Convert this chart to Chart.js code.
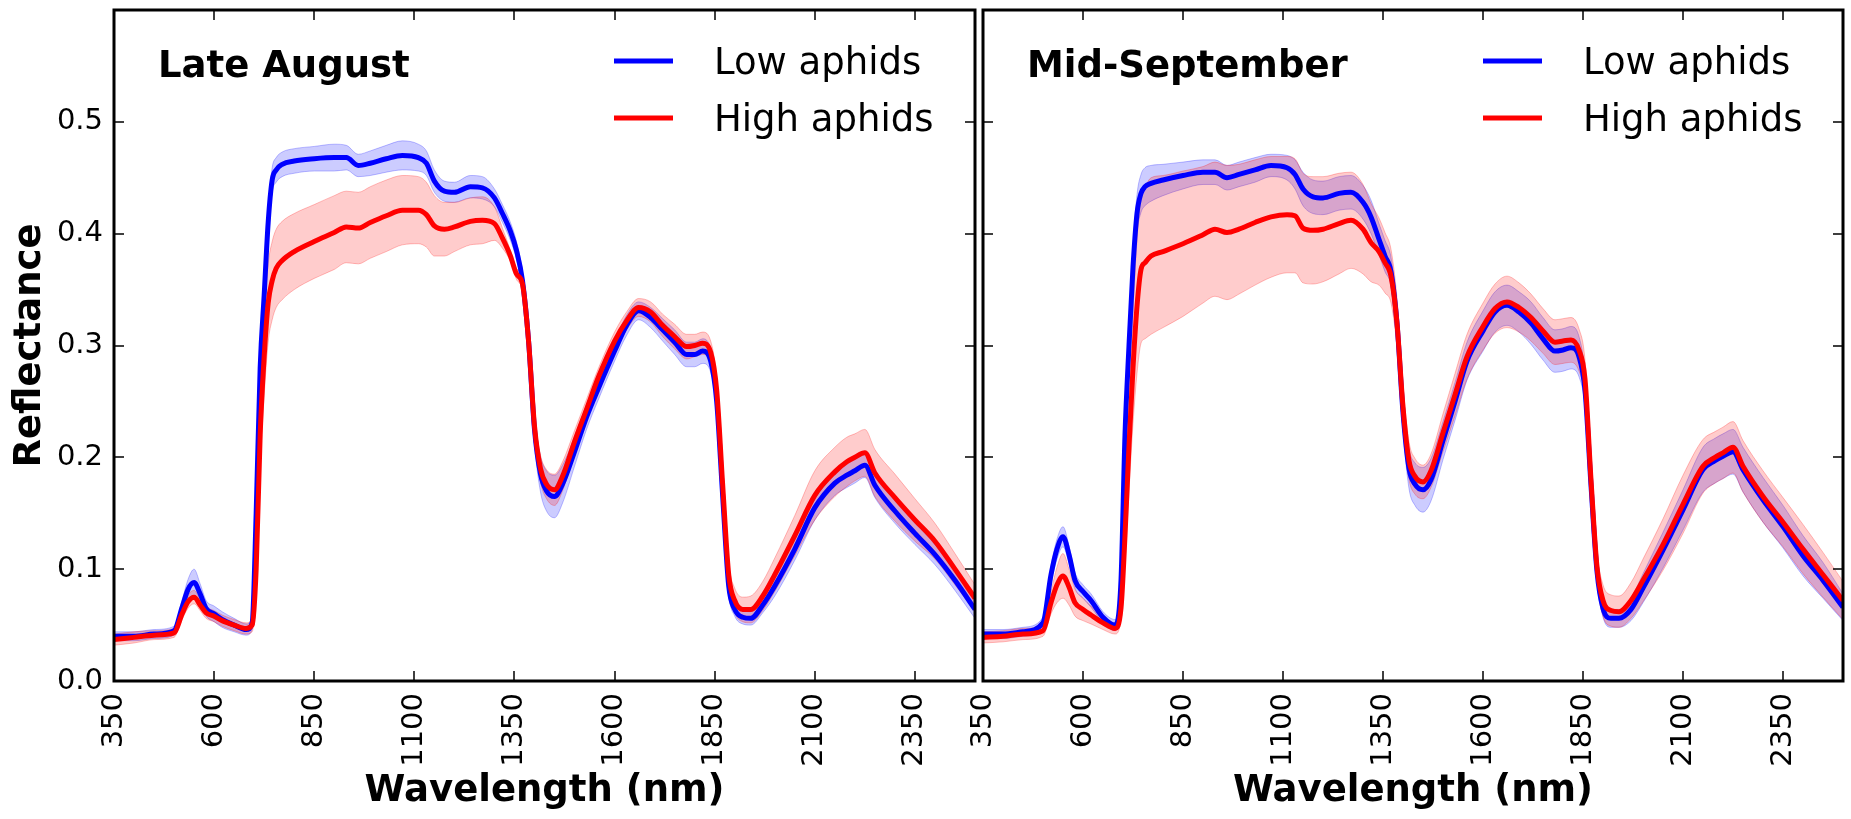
<!DOCTYPE html>
<html>
<head>
<meta charset="utf-8">
<script src="https://cdn.jsdelivr.net/npm/chart.js@4.4.1/dist/chart.umd.min.js"></script>
<style>
  html, body { margin: 0; padding: 0; background: #fff; }
  body { width: 1851px; height: 819px; position: relative; overflow: hidden; }
  canvas { position: absolute; top: 0; }
  #augChart { left: 0; }
  #sepChart { left: 940px; }
</style>
</head>
<body>
<canvas id="augChart" width="980" height="819"></canvas>
<canvas id="sepChart" width="911" height="819"></canvas>
<script>
// wavelengths (nm)
const wavelengths = [350, 400, 450, 500,
  520, 535, 550, 565, 580,
  600, 620, 650, 680,
  695, 705, 715, 725, 735, 745, 755,
  770, 800, 850, 900, 930, 960, 990,
  1030, 1070, 1110, 1130, 1150, 1175, 1200,
  1240, 1270, 1300, 1320, 1340, 1355, 1370,
  1385, 1400, 1415, 1430, 1450, 1470, 1500,
  1530, 1560, 1600, 1630, 1660, 1690, 1720,
  1750, 1780, 1800, 1820, 1840, 1855, 1870,
  1885, 1900, 1920, 1940, 1970, 2000, 2050,
  2100, 2150, 2180, 2200, 2225, 2250, 2300,
  2350, 2400, 2450, 2500];

const xTickValues = [350, 600, 850, 1100, 1350, 1600, 1850, 2100, 2350];
const yTickValues = [0, 0.1, 0.2, 0.3, 0.4, 0.5];
const seriesNames = ['Low aphids', 'High aphids'];

// Late August
const augLow = [0.040, 0.040, 0.042, 0.045,
  0.066, 0.082, 0.088, 0.078, 0.065,
  0.060, 0.055, 0.050, 0.046,
  0.052, 0.150, 0.280, 0.345, 0.410, 0.448, 0.457,
  0.462, 0.465, 0.467, 0.468, 0.468, 0.461, 0.463,
  0.467, 0.470, 0.468, 0.463, 0.447, 0.438, 0.437,
  0.442, 0.441, 0.432, 0.418, 0.402, 0.385, 0.358,
  0.305, 0.225, 0.185, 0.170, 0.165, 0.176, 0.205,
  0.236, 0.262, 0.295, 0.318, 0.331, 0.325, 0.314,
  0.303, 0.292, 0.292, 0.295, 0.286, 0.250, 0.165,
  0.085, 0.064, 0.057, 0.056, 0.068, 0.085, 0.118,
  0.155, 0.177, 0.184, 0.188, 0.193, 0.175, 0.152,
  0.132, 0.113, 0.090, 0.064];
const augLowSd = [0.004, 0.004, 0.004, 0.004,
  0.006, 0.009, 0.012, 0.009, 0.007,
  0.007, 0.007, 0.006, 0.005,
  0.006, 0.010, 0.012, 0.012, 0.012, 0.011, 0.011,
  0.011, 0.011, 0.011, 0.012, 0.011, 0.010, 0.011,
  0.012, 0.013, 0.012, 0.011, 0.010, 0.009, 0.009,
  0.010, 0.010, 0.008, 0.008, 0.008, 0.008, 0.008,
  0.010, 0.013, 0.016, 0.018, 0.019, 0.017, 0.013,
  0.011, 0.010, 0.009, 0.009, 0.008, 0.009, 0.010,
  0.011, 0.011, 0.011, 0.011, 0.010, 0.009, 0.008,
  0.007, 0.006, 0.006, 0.006, 0.007, 0.009, 0.010,
  0.011, 0.011, 0.011, 0.011, 0.011, 0.011, 0.011,
  0.010, 0.009, 0.009, 0.008];
const augHigh = [0.037, 0.039, 0.041, 0.043,
  0.060, 0.071, 0.075, 0.068, 0.061,
  0.058, 0.054, 0.050, 0.047,
  0.050, 0.100, 0.220, 0.290, 0.338, 0.358, 0.369,
  0.376, 0.384, 0.393, 0.401, 0.406, 0.405, 0.410,
  0.416, 0.421, 0.421, 0.417, 0.407, 0.404, 0.406,
  0.411, 0.412, 0.409, 0.396, 0.380, 0.364, 0.355,
  0.305, 0.228, 0.190, 0.176, 0.171, 0.183, 0.214,
  0.243, 0.272, 0.304, 0.322, 0.334, 0.330, 0.318,
  0.308, 0.299, 0.300, 0.302, 0.294, 0.260, 0.175,
  0.095, 0.072, 0.064, 0.064, 0.076, 0.095, 0.130,
  0.166, 0.187, 0.196, 0.200, 0.204, 0.186, 0.164,
  0.144, 0.125, 0.100, 0.074];
const augHighSd = [0.005, 0.005, 0.004, 0.004,
  0.005, 0.006, 0.006, 0.005, 0.005,
  0.005, 0.005, 0.005, 0.005,
  0.006, 0.015, 0.030, 0.035, 0.035, 0.035, 0.035,
  0.035, 0.034, 0.033, 0.033, 0.032, 0.032, 0.032,
  0.032, 0.031, 0.030, 0.029, 0.027, 0.024, 0.022,
  0.021, 0.021, 0.015, 0.009, 0.005, 0.005, 0.006,
  0.008, 0.010, 0.012, 0.013, 0.014, 0.013, 0.010,
  0.009, 0.008, 0.008, 0.008, 0.008, 0.009, 0.010,
  0.011, 0.011, 0.010, 0.010, 0.010, 0.010, 0.010,
  0.011, 0.011, 0.011, 0.012, 0.013, 0.015, 0.018,
  0.022, 0.022, 0.022, 0.021, 0.021, 0.021, 0.021,
  0.019, 0.016, 0.014, 0.012];

// Mid-September
const sepLow = [0.042, 0.042, 0.044, 0.052,
  0.095, 0.118, 0.129, 0.113, 0.090,
  0.080, 0.072, 0.057, 0.050,
  0.090, 0.220, 0.300, 0.370, 0.418, 0.436, 0.442,
  0.445, 0.448, 0.452, 0.455, 0.455, 0.450, 0.453,
  0.457, 0.461, 0.459, 0.453, 0.440, 0.433, 0.432,
  0.436, 0.437, 0.428, 0.415, 0.395, 0.380, 0.366,
  0.320, 0.240, 0.190, 0.176, 0.171, 0.180, 0.215,
  0.250, 0.286, 0.313, 0.330, 0.336, 0.330, 0.320,
  0.306, 0.295, 0.296, 0.298, 0.290, 0.260, 0.175,
  0.098, 0.065, 0.056, 0.056, 0.064, 0.083, 0.117,
  0.153, 0.189, 0.197, 0.201, 0.205, 0.189, 0.162,
  0.138, 0.112, 0.090, 0.066];
const sepLowSd = [0.004, 0.004, 0.004, 0.005,
  0.008, 0.009, 0.009, 0.008, 0.007,
  0.006, 0.006, 0.005, 0.005,
  0.008, 0.013, 0.016, 0.017, 0.017, 0.017, 0.017,
  0.016, 0.014, 0.012, 0.011, 0.011, 0.011, 0.011,
  0.011, 0.010, 0.011, 0.013, 0.015, 0.015, 0.015,
  0.015, 0.015, 0.015, 0.015, 0.014, 0.014, 0.013,
  0.014, 0.016, 0.018, 0.019, 0.020, 0.019, 0.017,
  0.017, 0.017, 0.018, 0.018, 0.018, 0.018, 0.019,
  0.019, 0.019, 0.019, 0.019, 0.018, 0.015, 0.012,
  0.009, 0.008, 0.008, 0.008, 0.010, 0.013, 0.016,
  0.018, 0.020, 0.020, 0.020, 0.020, 0.020, 0.020,
  0.019, 0.018, 0.016, 0.012];
const sepHigh = [0.039, 0.040, 0.042, 0.045,
  0.070, 0.086, 0.094, 0.084, 0.070,
  0.064, 0.059, 0.052, 0.047,
  0.065, 0.130, 0.210, 0.280, 0.335, 0.368, 0.374,
  0.380, 0.384, 0.391, 0.399, 0.404, 0.401, 0.404,
  0.410, 0.415, 0.417, 0.416, 0.405, 0.403, 0.404,
  0.409, 0.412, 0.404, 0.392, 0.384, 0.374, 0.362,
  0.320, 0.245, 0.197, 0.183, 0.178, 0.188, 0.222,
  0.256, 0.290, 0.317, 0.333, 0.339, 0.334, 0.325,
  0.313, 0.303, 0.304, 0.305, 0.296, 0.270, 0.180,
  0.102, 0.072, 0.063, 0.062, 0.072, 0.090, 0.122,
  0.158, 0.192, 0.200, 0.204, 0.209, 0.192, 0.165,
  0.142, 0.118, 0.095, 0.072];
const sepHighSd = [0.005, 0.005, 0.005, 0.005,
  0.010, 0.016, 0.020, 0.016, 0.012,
  0.010, 0.008, 0.006, 0.005,
  0.010, 0.025, 0.040, 0.050, 0.060, 0.066, 0.068,
  0.070, 0.068, 0.065, 0.061, 0.060, 0.060, 0.058,
  0.056, 0.054, 0.052, 0.051, 0.049, 0.048, 0.047,
  0.045, 0.043, 0.040, 0.035, 0.030, 0.027, 0.024,
  0.022, 0.020, 0.017, 0.016, 0.015, 0.015, 0.017,
  0.019, 0.020, 0.021, 0.022, 0.023, 0.022, 0.021,
  0.020, 0.020, 0.020, 0.020, 0.019, 0.017, 0.015,
  0.014, 0.014, 0.014, 0.014, 0.016, 0.019, 0.023,
  0.026, 0.024, 0.023, 0.023, 0.023, 0.023, 0.023,
  0.022, 0.022, 0.020, 0.017];

const FONT = 'DejaVu Sans';

function toPoints(arr) {
  return wavelengths.map((w, i) => ({ x: w, y: arr[i] }));
}
function shifted(arr, sd, k) {
  return arr.map((v, i) => v + k * sd[i]);
}

function panelDatasets(low, lowSd, high, highSd) {
  const base = { pointRadius: 0, borderJoinStyle: 'round', cubicInterpolationMode: 'monotone' };
  return [
    { ...base, label: seriesNames[1], data: toPoints(high), borderColor: '#ff0000', borderWidth: 5, fill: false, order: 0 },
    { ...base, label: seriesNames[0], data: toPoints(low), borderColor: '#0000ff', borderWidth: 5, fill: false, order: 1 },
    { ...base, label: 'high+', data: toPoints(shifted(high, highSd, 1)), borderColor: 'rgba(255,0,0,0.25)', borderWidth: 1, fill: false, order: 2 },
    { ...base, label: 'high-', data: toPoints(shifted(high, highSd, -1)), borderColor: 'rgba(255,0,0,0.25)', borderWidth: 1,
      backgroundColor: 'rgba(255,0,0,0.2)', fill: '-1', order: 2 },
    { ...base, label: 'low+', data: toPoints(shifted(low, lowSd, 1)), borderColor: 'rgba(0,0,255,0.25)', borderWidth: 1, fill: false, order: 3 },
    { ...base, label: 'low-', data: toPoints(shifted(low, lowSd, -1)), borderColor: 'rgba(0,0,255,0.25)', borderWidth: 1,
      backgroundColor: 'rgba(0,0,255,0.2)', fill: '-1', order: 3 }
  ];
}

// frame, inward ticks, panel title and legend
const panelDecor = {
  id: 'panelDecor',
  afterDraw(chart, args, opts) {
    const { ctx, chartArea: a } = chart;
    const x = chart.scales.x, y = chart.scales.y;
    ctx.save();
    ctx.strokeStyle = '#000';
    ctx.lineWidth = 1.5;
    ctx.beginPath();
    xTickValues.forEach(v => {
      const px = Math.round(x.getPixelForValue(v));
      if (px <= a.left + 2 || px >= a.right - 2) return;
      ctx.moveTo(px, a.bottom); ctx.lineTo(px, a.bottom - 10);
      ctx.moveTo(px, a.top); ctx.lineTo(px, a.top + 10);
    });
    yTickValues.forEach(v => {
      const py = Math.round(y.getPixelForValue(v));
      if (py >= a.bottom - 2 || py <= a.top + 2) return;
      ctx.moveTo(a.left, py); ctx.lineTo(a.left + 10, py);
      ctx.moveTo(a.right, py); ctx.lineTo(a.right - 10, py);
    });
    ctx.stroke();
    ctx.lineWidth = 3;
    ctx.strokeRect(a.left, a.top, a.right - a.left, a.bottom - a.top);

    ctx.fillStyle = '#000';
    ctx.textAlign = 'left';
    ctx.textBaseline = 'alphabetic';
    ctx.font = 'bold 37px "' + FONT + '"';
    ctx.fillText(opts.title, a.left + 44, 77);

    ctx.font = '37px "' + FONT + '"';
    const rows = [{ lineY: 61, textY: 74 }, { lineY: 118, textY: 131 }];
    seriesNames.forEach((name, i) => {
      const ds = chart.data.datasets.find(d => d.label === name);
      ctx.strokeStyle = ds.borderColor;
      ctx.lineWidth = 5;
      ctx.beginPath();
      ctx.moveTo(a.left + 500, rows[i].lineY);
      ctx.lineTo(a.left + 559, rows[i].lineY);
      ctx.stroke();
      ctx.fillText(name, a.left + 600, rows[i].textY);
    });
    ctx.restore();
  }
};

function fixPadding(scale) {
  scale.paddingLeft = 0; scale.paddingRight = 0;
  scale.paddingTop = 0; scale.paddingBottom = 0;
}

function makePanel(canvasId, title, low, lowSd, high, highSd, showY, padding) {
  const ctx = document.getElementById(canvasId).getContext('2d');
  return new Chart(ctx, {
    type: 'line',
    data: { datasets: panelDatasets(low, lowSd, high, highSd) },
    plugins: [panelDecor],
    options: {
      responsive: false,
      devicePixelRatio: 1,
      animation: false,
      events: [],
      layout: { padding: padding },
      plugins: {
        legend: { display: false },
        tooltip: { enabled: false },
        panelDecor: { title: title }
      },
      scales: {
        x: {
          type: 'linear',
          min: 350,
          max: 2500,
          grid: { display: false, drawTicks: false },
          border: { display: false },
          afterBuildTicks: s => { s.ticks = xTickValues.map(v => ({ value: v })); },
          afterFit: s => { s.height = 138; fixPadding(s); },
          ticks: {
            autoSkip: false,
            minRotation: 90,
            maxRotation: 90,
            padding: 12,
            color: '#000',
            font: { family: FONT, size: 29 },
            callback: v => String(v)
          },
          title: {
            display: true,
            text: 'Wavelength (nm)',
            color: '#000',
            font: { family: FONT, size: 37, weight: 'bold' },
            padding: { top: 0, bottom: 5 }
          }
        },
        y: {
          display: showY,
          min: 0,
          max: 0.6,
          grid: { display: false, drawTicks: false },
          border: { display: false },
          afterBuildTicks: s => { s.ticks = yTickValues.map(v => ({ value: v })); },
          afterFit: s => { if (showY) s.width = 114; fixPadding(s); },
          ticks: {
            padding: 11,
            color: '#000',
            font: { family: FONT, size: 29 },
            callback: v => Number(v).toFixed(1)
          },
          title: {
            display: true,
            text: 'Reflectance',
            color: '#000',
            font: { family: FONT, size: 37, weight: 'bold' },
            padding: { top: 8, bottom: 0 }
          }
        }
      }
    }
  });
}

makePanel('augChart', 'Late August', augLow, augLowSd, augHigh, augHighSd, true,
  { left: 0, right: 5, top: 10, bottom: 0 });
makePanel('sepChart', 'Mid-September', sepLow, sepLowSd, sepHigh, sepHighSd, false,
  { left: 43, right: 8, top: 10, bottom: 0 });
</script>
</body>
</html>
